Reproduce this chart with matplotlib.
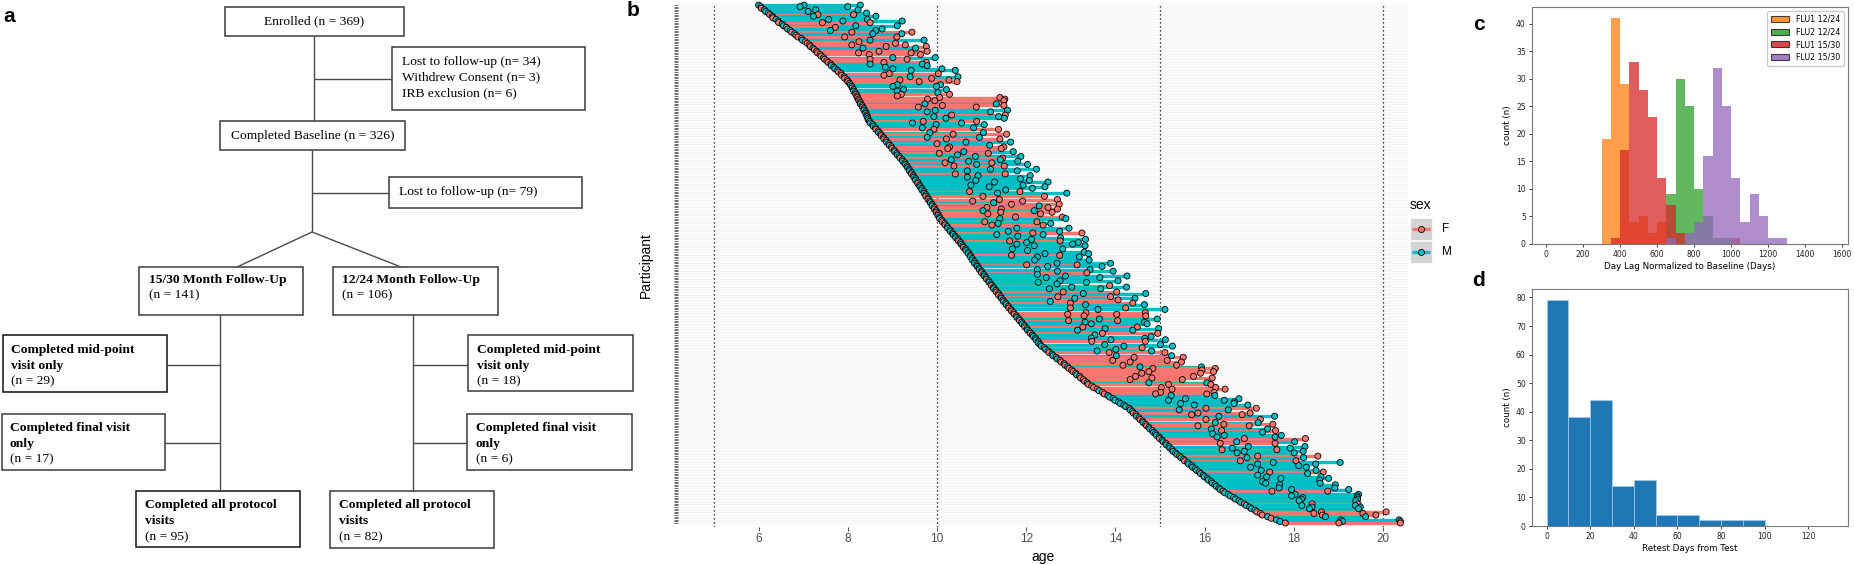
import numpy as np
import matplotlib
matplotlib.use("Agg")
import matplotlib.pyplot as plt
from matplotlib.collections import LineCollection
from matplotlib.patches import Rectangle, Patch

W, H = 1854, 564

# ---- panel a: flow chart counts ----
n_enrolled = 369
n_lost1, n_withdrew, n_irb = 34, 3, 6
n_baseline = 326
n_lost2 = 79
n_1530, n_1224 = 141, 106
n_mid_1530, n_final_1530, n_all_1530 = 29, 17, 95
n_mid_1224, n_final_1224, n_all_1224 = 18, 6, 82

# ---- panel b: participants (sorted by baseline age, top row first) ----
baseline_age = [
    6.00, 6.05, 6.06, 6.13, 6.16, 6.22, 6.25, 6.31, 6.32, 6.39,
    6.44, 6.45, 6.53, 6.56, 6.62, 6.65, 6.71, 6.74, 6.81, 6.84,
    6.88, 6.96, 6.98, 7.05, 7.09, 7.14, 7.16, 7.22, 7.25, 7.30,
    7.32, 7.38, 7.40, 7.46, 7.48, 7.53, 7.56, 7.62, 7.63, 7.69,
    7.71, 7.77, 7.79, 7.85, 7.86, 7.92, 7.93, 7.99, 8.00, 8.04,
    8.06, 8.09, 8.10, 8.13, 8.13, 8.17, 8.18, 8.21, 8.21, 8.24,
    8.25, 8.28, 8.28, 8.32, 8.33, 8.36, 8.36, 8.40, 8.40, 8.43,
    8.43, 8.45, 8.46, 8.49, 8.50, 8.56, 8.57, 8.62, 8.63, 8.68,
    8.69, 8.74, 8.75, 8.80, 8.81, 8.86, 8.87, 8.92, 8.93, 8.98,
    8.99, 9.04, 9.05, 9.10, 9.11, 9.16, 9.17, 9.22, 9.23, 9.28,
    9.29, 9.33, 9.34, 9.38, 9.38, 9.43, 9.43, 9.47, 9.48, 9.52,
    9.52, 9.57, 9.57, 9.61, 9.62, 9.66, 9.66, 9.71, 9.71, 9.75,
    9.75, 9.80, 9.80, 9.84, 9.85, 9.89, 9.89, 9.94, 9.94, 9.98,
    9.98, 10.02, 10.02, 10.06, 10.06, 10.11, 10.12, 10.17, 10.18, 10.23,
    10.24, 10.29, 10.30, 10.35, 10.36, 10.41, 10.42, 10.47, 10.48, 10.53,
    10.54, 10.58, 10.59, 10.64, 10.65, 10.70, 10.70, 10.75, 10.75, 10.79,
    10.79, 10.84, 10.84, 10.89, 10.90, 10.94, 10.95, 11.00, 11.00, 11.05,
    11.06, 11.10, 11.11, 11.16, 11.17, 11.21, 11.22, 11.27, 11.27, 11.32,
    11.33, 11.38, 11.38, 11.43, 11.44, 11.48, 11.49, 11.54, 11.55, 11.60,
    11.61, 11.66, 11.67, 11.72, 11.73, 11.78, 11.79, 11.84, 11.85, 11.90,
    11.91, 11.96, 11.97, 12.02, 12.03, 12.08, 12.09, 12.14, 12.16, 12.21,
    12.22, 12.27, 12.27, 12.31, 12.34, 12.40, 12.43, 12.49, 12.51, 12.58,
    12.60, 12.67, 12.69, 12.76, 12.78, 12.85, 12.87, 12.93, 12.96, 13.02,
    13.05, 13.11, 13.13, 13.20, 13.22, 13.28, 13.31, 13.37, 13.39, 13.47,
    13.51, 13.59, 13.63, 13.71, 13.75, 13.83, 13.87, 13.95, 13.99, 14.07,
    14.11, 14.19, 14.23, 14.31, 14.33, 14.38, 14.40, 14.46, 14.47, 14.53,
    14.55, 14.61, 14.62, 14.68, 14.70, 14.75, 14.77, 14.83, 14.85, 14.90,
    14.92, 14.98, 14.99, 15.05, 15.07, 15.13, 15.14, 15.20, 15.22, 15.27,
    15.29, 15.35, 15.38, 15.44, 15.47, 15.53, 15.55, 15.62, 15.64, 15.71,
    15.73, 15.79, 15.82, 15.88, 15.91, 15.97, 15.99, 16.06, 16.08, 16.15,
    16.17, 16.23, 16.26, 16.32, 16.35, 16.41, 16.45, 16.53, 16.57, 16.65,
    16.69, 16.77, 16.81, 16.89, 16.93, 17.01, 17.05, 17.13, 17.17, 17.25,
    17.29, 17.41, 17.49, 17.61, 17.69, 17.81,
]

sex = ("MMFMMMFMFM" "MFMMFMMFMF" "FFMFFFFMFF" "FFFMFFFMMM" "MMFFFMFFFF"
       "MMFMMMFFFF" "FFMFFMMMMF" "MMMFMMMMFF" "MFFMFFMFMF" "FMMFMMFMMF"
       "MFMMMMFMMM" "MMFMMMMFMM" "FMFFMFMFFM" "FFMFMFFMFM" "MMMFMMMMFM"
       "MMFMMMMFMM" "MMMFMMMMFM" "MMFMMMFMMF" "FMFFMFMFMF" "FMFFFFMMFM"
       "MMFMMMFMMM" "MFMMMFMMFM" "MFMFFMFMFF" "FFMFFFFMFF" "FFMFFMMMMM"
       "MMMFMMFFMF" "FFMFFMMFMM" "MMFMMFMMMF" "MMMFMMFMMM" "MMMFMMMMMM"
       "MMMMMFMMMM" "MMMFMMMMFF" "FMFMMF")

# years after baseline of the mid-point visit (0 = not attended)
mid_lag = [
    1.02, 0.88, 0, 1.15, 0.95, 0, 1.08, 0.92, 0, 1.18,
    1.45, 0.98, 0, 1.62, 1.10, 0, 0.90, 1.35, 1.75, 0,
    1.05, 0, 1.52, 1.20, 0, 0.95, 1.70, 1.12, 0, 1.40,
    0.92, 1.10, 0, 1.55, 1.02, 0, 1.25, 0.88, 0, 1.15,
    1.30, 1.65, 0, 1.08, 0.95, 1.48, 0, 1.18, 1.60, 0,
    1.05, 0.92, 0, 1.12, 0.98, 0, 1.02, 0.90, 1.85, 1.55,
    1.70, 0, 1.45, 1.80, 1.25, 0, 1.60, 1.38, 0, 1.90,
    1.50, 1.75, 0, 1.20, 0.95, 1.42, 0, 1.05, 1.30, 0,
    1.15, 1.62, 0, 0.98, 1.40, 0, 1.78, 1.08, 0, 1.30,
    1.25, 0, 1.55, 0.95, 1.35, 1.70, 0, 1.10, 1.48, 0.90,
    1.60, 1.05, 0, 1.82, 1.30, 0, 0.98, 1.45, 1.20, 0,
    1.35, 1.72, 0, 1.15, 1.55, 0, 1.88, 1.02, 1.65, 0,
    1.28, 0, 1.60, 0.96, 1.42, 1.78, 0, 1.18, 1.50, 1.05,
    1.45, 1.12, 0, 1.70, 1.35, 0, 0.95, 1.20, 1.05, 0,
    1.55, 0, 1.30, 1.80, 0.98, 1.40, 0, 1.65, 1.15, 1.48,
    1.25, 1.60, 0, 1.05, 1.38, 0, 1.72, 0.92, 1.50, 0,
    1.40, 0, 1.85, 1.12, 1.58, 0, 1.30, 1.70, 0, 1.20,
    1.82, 1.35, 0, 1.60, 1.10, 1.48, 0, 1.75, 1.25, 0,
    1.50, 1.90, 0, 1.28, 1.65, 0, 1.05, 1.45, 1.78, 0,
    1.38, 1.95, 0, 1.62, 1.20, 1.52, 0, 1.80, 1.10, 1.42,
    1.55, 0, 1.30, 1.75, 1.12, 0, 1.62, 1.40, 0, 1.25,
    1.68, 1.20, 0, 1.45, 1.85, 0, 1.58, 1.10, 1.35, 0,
    1.42, 1.75, 0, 1.18, 1.55, 0, 1.30, 1.62, 1.88, 0,
    1.70, 1.48, 0, 1.25, 1.60, 1.05, 0, 1.38, 1.80, 0,
    1.52, 1.68, 0, 1.30, 1.15, 1.42, 0, 1.62, 1.20, 0,
    1.35, 1.58, 0, 1.72, 1.10, 0, 1.45, 1.25, 1.85, 0,
    1.48, 0, 1.62, 1.75, 1.15, 0, 1.38, 1.55, 0, 1.28,
    1.52, 1.30, 1.90, 0, 1.65, 1.22, 0, 1.78, 1.40, 1.12,
    1.60, 1.38, 0, 1.75, 1.48, 0, 1.25, 1.92, 1.55, 0,
    1.30, 0, 1.45, 1.58, 0, 1.22, 1.40, 1.65, 0, 1.15,
    1.20, 1.45, 0, 1.35, 1.60, 1.10, 0, 1.50, 1.38, 1.55,
    1.48, 1.35, 0, 1.52, 1.25, 1.40, 1.30, 0, 1.45, 1.20,
    1.35, 1.30, 0, 1.45, 1.40, 1.20,
]

# years after baseline of the final visit (0 = not attended)
final_lag = [
    2.28, 1.95, 0, 2.10, 0, 2.20, 1.88, 2.32, 0, 2.05,
    2.78, 2.05, 0, 2.55, 0, 2.12, 1.92, 2.70, 2.40, 0,
    2.22, 0, 2.73, 0, 1.98, 2.15, 2.60, 2.30, 0, 2.48,
    2.10, 2.25, 0, 2.50, 1.85, 0, 2.20, 2.05, 2.15, 0,
    2.40, 2.64, 0, 2.18, 0, 2.55, 1.95, 2.28, 2.45, 0,
    2.02, 1.90, 0, 2.08, 0, 1.85, 2.10, 0, 3.20, 3.28,
    3.25, 0, 3.05, 3.18, 2.55, 0, 3.22, 2.80, 0, 3.10,
    2.95, 3.06, 0, 2.40, 2.05, 2.50, 0, 2.20, 2.75, 0,
    2.35, 2.82, 0, 2.15, 2.60, 0, 2.78, 0, 2.25, 2.52,
    2.45, 0, 2.66, 2.05, 0, 2.72, 2.30, 2.20, 2.58, 1.95,
    2.74, 2.18, 0, 2.85, 2.42, 0, 2.10, 2.62, 0, 2.35,
    2.55, 2.92, 0, 2.32, 2.80, 2.48, 0, 2.15, 3.20, 0,
    2.66, 0, 2.90, 2.08, 0, 2.85, 2.40, 2.55, 2.76, 2.20,
    2.60, 2.30, 0, 2.75, 2.83, 0, 2.12, 2.38, 2.20, 0,
    2.72, 0, 2.45, 2.90, 2.02, 0, 2.35, 2.86, 2.28, 2.64,
    2.50, 2.74, 0, 2.18, 0, 2.60, 2.70, 2.00, 2.44, 0,
    2.62, 0, 3.05, 2.25, 2.80, 0, 2.48, 2.95, 2.36, 0,
    3.20, 2.55, 0, 2.90, 2.18, 0, 2.65, 2.98, 2.40, 0,
    2.70, 3.30, 0, 2.46, 3.00, 2.58, 0, 2.85, 3.10, 0,
    2.62, 3.45, 0, 2.95, 2.30, 2.90, 0, 3.10, 2.20, 2.75,
    2.80, 0, 2.52, 2.95, 2.36, 0, 2.86, 0, 2.64, 2.45,
    2.90, 2.40, 0, 2.70, 2.94, 2.20, 0, 2.32, 2.60, 0,
    2.66, 2.85, 0, 2.40, 2.70, 0, 2.50, 3.00, 3.28, 2.92,
    3.15, 2.80, 0, 2.55, 2.95, 2.22, 0, 2.68, 2.75, 0,
    2.74, 2.87, 0, 2.50, 2.30, 2.40, 0, 2.82, 2.45, 2.60,
    2.55, 2.78, 0, 2.85, 2.20, 0, 2.62, 2.38, 3.10, 0,
    2.70, 0, 2.58, 2.85, 2.30, 0, 2.64, 2.76, 2.45, 0,
    2.80, 2.60, 3.27, 0, 2.95, 2.45, 0, 3.05, 2.70, 2.35,
    2.92, 2.66, 0, 3.10, 2.75, 0, 2.50, 3.42, 2.85, 2.40,
    2.55, 0, 2.68, 2.78, 2.40, 0, 2.62, 2.72, 2.50, 0,
    2.42, 2.70, 0, 2.60, 2.88, 2.35, 0, 2.92, 2.85, 2.78,
    2.74, 2.62, 0, 2.55, 2.45, 2.48, 2.40, 0, 2.90, 2.30,
    2.55, 2.20, 0, 2.75, 2.70, 2.58,
]
assert len(baseline_age) == len(sex) == len(mid_lag) == len(final_lag)

# ---- panel c: day lag histograms (bin left edge, count), bin width 50 ----
flu1_1224_bins = [300, 350, 400, 450, 500, 550, 600]
flu1_1224_cnt = [19, 41, 29, 4, 5, 2, 4]
flu2_1224_bins = [650, 700, 750, 800, 850, 900, 950]
flu2_1224_cnt = [9, 30, 25, 10, 5, 1, 1]
flu1_1530_bins = [350, 400, 450, 500, 550, 600, 650, 700, 1000]
flu1_1530_cnt = [1, 17, 33, 28, 23, 12, 7, 2, 1]
flu2_1530_bins = [650, 750, 800, 850, 900, 950, 1000, 1050, 1100, 1150, 1200, 1250]
flu2_1530_cnt = [1, 2, 4, 16, 32, 25, 12, 4, 9, 5, 1, 1]

# ---- panel d: retest days histogram, bin width 10 ----
retest_bins = [0, 10, 20, 30, 40, 50, 60, 70, 80, 90]
retest_cnt = [79, 38, 44, 14, 16, 4, 4, 2, 2, 2]

SEX_COL = {"F": "#F8766D", "M": "#00BFC4"}

fig = plt.figure(figsize=(W / 100, H / 100), dpi=100)


def px_axes(x0, y0, x1, y1, **kw):
    return fig.add_axes([x0 / W, 1 - y1 / H, (x1 - x0) / W, (y1 - y0) / H], **kw)


# ================= panel a =================
ax0 = px_axes(0, 0, W, H)
ax0.set_xlim(0, W)
ax0.set_ylim(H, 0)
ax0.axis("off")
serif = "Liberation Serif"
FS = 9.7


def box(x0, y0, x1, y1, lines, ys, tx=None, bold=0, ec="#3a3a3a"):
    ax0.add_patch(Rectangle((x0, y0), x1 - x0, y1 - y0, fill=False, ec=ec, lw=1.1))
    for i, (s, y) in enumerate(zip(lines, ys)):
        if tx is None:
            ax0.text((x0 + x1) / 2, y, s, ha="center", va="center",
                     family=serif, fontsize=FS)
        else:
            ax0.text(tx, y, s, ha="left", va="center", family=serif, fontsize=FS,
                     weight="bold" if i < bold else "normal")


def link(xs, ys):
    ax0.plot(xs, ys, color="#4a4a4a", lw=1.0, solid_capstyle="butt")


link([314, 314], [36, 121])
link([314, 392], [78.5, 78.5])
link([312, 312], [150, 232])
link([312, 389], [193, 193])
link([237, 312, 401], [267, 232, 267])
link([220, 220], [315, 491])
link([167, 220], [365, 365])
link([165, 220], [443, 443])
link([413, 413], [315, 491])
link([413, 468], [365, 365])
link([413, 467], [443, 443])

box(225, 7, 404, 36, [f"Enrolled (n = {n_enrolled})"], [21.5])
box(392, 47, 585, 110,
    [f"Lost to follow-up (n= {n_lost1})", f"Withdrew Consent (n= {n_withdrew})",
     f"IRB exclusion (n= {n_irb})"], [62, 77.5, 93], tx=402)
box(220, 121, 405, 150, [f"Completed Baseline (n = {n_baseline})"], [135.5])
box(389, 177, 582, 208, [f"Lost to follow-up (n= {n_lost2})"], [192.5], tx=399)
box(139, 267, 303, 315, ["15/30 Month Follow-Up", f"(n = {n_1530})"], [280, 295],
    tx=149, bold=1)
box(333, 267, 498, 315, ["12/24 Month Follow-Up", f"(n = {n_1224})"], [280, 295],
    tx=342, bold=1)
box(3, 335, 167, 392, ["Completed mid-point", "visit only", f"(n = {n_mid_1530})"],
    [350, 366, 381], tx=11, bold=2, ec="#111111")
box(2, 414, 165, 470, ["Completed final visit", "only", f"(n = {n_final_1530})"],
    [428, 444, 459], tx=10, bold=2)
box(136, 491, 300, 547, ["Completed all protocol", "visits", f"(n = {n_all_1530})"],
    [505, 521, 537], tx=145, bold=2, ec="#111111")
box(468, 335, 633, 391, ["Completed mid-point", "visit only", f"(n = {n_mid_1224})"],
    [350, 366, 381], tx=477, bold=2)
box(467, 414, 632, 470, ["Completed final visit", "only", f"(n = {n_final_1224})"],
    [428, 444, 459], tx=476, bold=2)
box(330, 491, 494, 548, ["Completed all protocol", "visits", f"(n = {n_all_1224})"],
    [505, 521, 537], tx=339, bold=2)

# ================= panel b =================
sans = "Liberation Sans"
axb = px_axes(678, 3, 1408, 527)
n = len(baseline_age)
rows = np.arange(n)
base = np.array(baseline_age)
mid = np.array(mid_lag)
fin = np.array(final_lag)
cols = [SEX_COL[s] for s in sex]

segs, seg_cols, px, py, pc = [], [], [], [], []
for i in range(n):
    ages = [base[i]]
    if mid[i] > 0:
        ages.append(base[i] + mid[i])
    if fin[i] > 0:
        ages.append(base[i] + fin[i])
    if len(ages) > 1:
        segs.append([(ages[0], i), (max(ages), i)])
        seg_cols.append(cols[i])
    for a in ages:
        px.append(a)
        py.append(i)
        pc.append(cols[i])

axb.add_collection(LineCollection(segs, colors=seg_cols, linewidths=2.4,
                                  capstyle="butt", zorder=2))
axb.scatter(px, py, s=19, c=pc, edgecolors="black", linewidths=0.6, zorder=3,
            clip_on=False)
for v in [5, 10, 15, 20]:
    axb.axvline(v, color="black", lw=0.9, ls=(0, (1, 2.2)), zorder=1)

axb.set_xlim(4.193, 20.56)
axb.set_ylim(327.5, -1.3)
axb.set_yticks(rows)
axb.set_yticklabels([])
axb.grid(axis="y", color="#EFEFEF", lw=0.4)
axb.set_axisbelow(True)
axb.set_xticks([6, 8, 10, 12, 14, 16, 18, 20])
axb.tick_params(axis="y", length=2.6, width=0.5, color="#333333")
axb.tick_params(axis="x", length=2.6, width=0.6, color="#333333",
                labelcolor="#4D4D4D", labelsize=8.5, pad=2)
for t in axb.get_xticklabels():
    t.set_family(sans)
for sp in axb.spines.values():
    sp.set_visible(False)
axb.set_xlabel("age", family=sans, fontsize=10, labelpad=3)
axb.set_ylabel("Participant", family=sans, fontsize=10, labelpad=12)

# ================= panel c =================
axc = px_axes(1532, 7, 1848, 243.6)
c_series = [
    ("FLU1 12/24", flu1_1224_bins, flu1_1224_cnt, "C1"),
    ("FLU2 12/24", flu2_1224_bins, flu2_1224_cnt, "C2"),
    ("FLU1 15/30", flu1_1530_bins, flu1_1530_cnt, "C3"),
    ("FLU2 15/30", flu2_1530_bins, flu2_1530_cnt, "C4"),
]
handles = []
for lab, b, c, col in c_series:
    axc.bar(b, c, width=50, align="edge", color=col, alpha=0.75, lw=0)
    handles.append(Patch(facecolor=col, alpha=0.85, edgecolor="#222222", lw=0.8,
                         label=lab))
axc.set_xlim(-75.6, 1630.8)
axc.set_ylim(0, 43.05)
axc.set_xticks(range(0, 1601, 200))
axc.set_yticks(range(0, 41, 5))
axc.set_xlabel("Day Lag Normalized to Baseline (Days)", fontsize=6.3, labelpad=2)
axc.set_ylabel("count (n)", fontsize=6.3, labelpad=3)
axc.legend(handles=handles, loc="upper right", fontsize=5.7, handlelength=2.3,
           handleheight=0.8, borderpad=0.5, labelspacing=0.45, framealpha=1,
           edgecolor="#cccccc")

# ================= panel d =================
axd = px_axes(1532, 289, 1848, 526)
axd.bar(retest_bins, retest_cnt, width=10, align="edge", color="C0",
        edgecolor="#a9cbe6", lw=0.5)
axd.set_xlim(-6.7, 138.2)
axd.set_ylim(0, 82.95)
axd.set_xticks(range(0, 121, 20))
axd.set_yticks(range(0, 81, 10))
axd.set_xlabel("Retest Days from Test", fontsize=6.3, labelpad=2)
axd.set_ylabel("count (n)", fontsize=6.3, labelpad=3)

for ax in (axc, axd):
    ax.tick_params(labelsize=5.5, length=2.5, width=0.6, pad=2, colors="#222222")
    for sp in ax.spines.values():
        sp.set_color("#777777")
        sp.set_linewidth(0.8)

# ================= overlay: panel letters and sex legend =================
axt = px_axes(0, 0, W, H, zorder=10)
axt.set_xlim(0, W)
axt.set_ylim(H, 0)
axt.axis("off")
axt.patch.set_alpha(0)
for lab, (x, y) in {"a": (9, 16), "b": (633, 11), "c": (1479, 24),
                    "d": (1479, 280)}.items():
    axt.text(x, y, lab, ha="center", va="center", fontsize=15, weight="bold",
             family=sans)

axt.text(1410, 205, "sex", ha="left", va="center", fontsize=10, family=sans)
for s, y in [("F", 218), ("M", 241)]:
    axt.add_patch(Rectangle((1410, y), 22, 22, fc="#D4D4D4", ec="white", lw=0.5))
    axt.plot([1412, 1430], [y + 11, y + 11], color=SEX_COL[s], lw=2.4,
             solid_capstyle="butt")
    axt.scatter([1421], [y + 11], s=19, c=SEX_COL[s], edgecolors="black",
                linewidths=0.6, zorder=3)
    axt.text(1442, y + 11, s, ha="left", va="center", fontsize=8.5, family=sans)

fig.savefig("out.png", dpi=100)
